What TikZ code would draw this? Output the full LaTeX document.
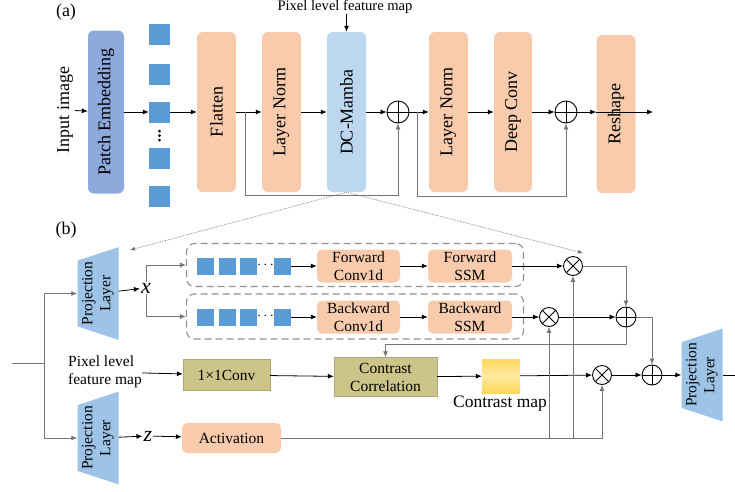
\documentclass[tikz,border=0pt]{standalone}
\usepackage{fontspec}
\setmainfont{Liberation Serif}
\usepackage{tikz}
\usetikzlibrary{arrows.meta,positioning,shapes.geometric}
\usepackage{xcolor}
\definecolor{PeachBox}{RGB}{248,203,173}
\definecolor{PatchBlue}{RGB}{142,169,219}
\definecolor{MambaBlue}{RGB}{189,215,238}
\definecolor{TokenBlue}{RGB}{91,155,213}
\definecolor{ProjBlue}{RGB}{157,195,230}
\definecolor{OliveBox}{RGB}{205,196,138}
\definecolor{LineGray}{RGB}{118,118,118}
\definecolor{MapGold}{RGB}{255,214,90}
\definecolor{MapLight}{RGB}{255,234,160}
\newcommand{\bigFont}{\fontsize{18}{20}\selectfont}
\newcommand{\smallFont}{\fontsize{15.5}{18}\selectfont}
\newcommand{\varFont}{\fontsize{22}{22}\selectfont\itshape}

\begin{document}
\begin{tikzpicture}[x=1pt,y=-1pt,
    arr/.style={-{Latex[length=6pt,width=5pt]},line width=0.8pt},
    garr/.style={arr,draw=LineGray},
    tallbox/.style={rounded corners=6pt,rotate=90,minimum width=160pt,minimum height=39pt,inner sep=0pt,font=\bigFont},
    token/.style={fill=TokenBlue,minimum size=21pt,inner sep=0pt},
    seqtoken/.style={fill=TokenBlue,minimum size=17pt,inner sep=0pt},
    addop/.style={circle,draw,line width=0.9pt,minimum size=22pt,inner sep=0pt,
        path picture={\draw[line width=0.9pt] (path picture bounding box.north) -- (path picture bounding box.south)
            (path picture bounding box.west) -- (path picture bounding box.east);}},
    mulop/.style={circle,draw,line width=0.9pt,minimum size=19pt,inner sep=0pt,
        path picture={\draw[line width=0.9pt] (path picture bounding box.north west) -- (path picture bounding box.south east)
            (path picture bounding box.north east) -- (path picture bounding box.south west);}},
    ssmbox/.style={fill=PeachBox,rounded corners=5pt,minimum width=84pt,minimum height=33pt,inner sep=0pt,align=center,font=\smallFont},
    convbox/.style={fill=OliveBox,draw=OliveBox!85!black,line width=0.4pt,inner sep=0pt,align=center,font=\smallFont},
    projbox/.style={trapezium,trapezium angle=67.5,trapezium stretches=true,rotate=90,minimum width=93pt,minimum height=41pt,
        inner sep=0pt,fill=ProjBlue,align=center,font=\smallFont},
    groupbox/.style={draw=LineGray!80,dash pattern=on 7pt off 4pt,line width=1.1pt,rounded corners=8pt,minimum width=337pt}]
\useasboundingbox (0,0) rectangle (735,491);

% (a) encoder block
\node[font=\bigFont] (lbla) at (66,12) {(a)};
\node[font=\fontsize{14.6}{16}\selectfont,inner sep=0pt] (pix1) at (345,7) {Pixel level feature map};
\node[rotate=90,font=\bigFont,inner sep=2pt] (inimg) at (65,110) {Input image};
\node[tallbox,fill=PatchBlue,minimum width=163pt,minimum height=36pt] (pe) at (106,112) {Patch Embedding};
\node[token] (tok1) at (159.5,34) {};
\node[token] (tok2) at (159.5,74) {};
\node[token] (tok3) at (159.5,112) {};
\node[token] (tok4) at (159.5,158) {};
\node[token] (tok5) at (159.5,196) {};
\foreach \dy in {131,135.5,140}
    \fill (159.5,\dy) circle (1.5pt);
\node[tallbox,fill=PeachBox] (fl) at (216.5,112) {Flatten};
\node[tallbox,fill=PeachBox] (ln1) at (281.5,112) {Layer Norm};
\node[tallbox,fill=MambaBlue] (dc) at (346.5,112) {DC-Mamba};
\node[addop] (add1) at (398,112) {};
\node[tallbox,fill=PeachBox] (ln2) at (448.5,112) {Layer Norm};
\node[tallbox,fill=PeachBox,minimum height=38pt] (dconv) at (513,112) {Deep Conv};
\node[addop] (add2) at (566,112) {};
\node[tallbox,fill=PeachBox,minimum width=158pt] (rs) at (616,114) {Reshape};
\coordinate (outa) at (653,112);
\coordinate (sk1) at (245,112);
\coordinate (low1) at (245,195);
\coordinate (sk2) at (417,112);
\coordinate (low2) at (417,196);

\draw[arr] (pix1.south -| dc) -- (dc);
\draw[arr] (inimg) -- (pe);
\draw[arr] (pe) -- (tok3);
\draw[arr] (tok3) -- (fl);
\draw[arr] (fl) -- (ln1);
\draw[arr] (ln1) -- (dc);
\draw[arr] (dc) -- (add1);
\draw[arr] (add1) -- (ln2);
\draw[arr] (ln2) -- (dconv);
\draw[arr] (dconv) -- (add2);
\draw[arr] (add2) -- (rs.north |- add2);
\draw[arr] (rs.north |- outa) -- (outa);
\draw[garr] (sk1) -- (low1) -| (add1);
\draw[garr] (sk2) -- (low2) -| (add2);

% (b) DC-Mamba internals
\node[font=\bigFont] (lblb) at (66,230) {(b)};
\coordinate (dotl) at (130,250);
\coordinate (dotr) at (583,253);
\draw[-{Latex[length=5pt,width=4pt]},densely dotted,draw=LineGray,line width=0.7pt] (dc.west) -- (dotl);
\draw[-{Latex[length=5pt,width=4pt]},densely dotted,draw=LineGray,line width=0.7pt] (dc.west) -- (dotr);

\node[groupbox,minimum height=43pt] (fwdgrp) at (355,265) {};
\node[groupbox,minimum height=45pt] (bwdgrp) at (355,316.5) {};

\node[projbox] (pu) at (98,293.5) {Projection\\Layer};
\node[font=\varFont,inner sep=1pt] (xv) at (146,288) {x};

\node[seqtoken] (f1) at (205.5,266) {};
\node[seqtoken] (f2) at (227,266) {};
\node[seqtoken] (f3) at (248.5,266) {};
\node[font=\smallFont] (fdots) at (265.5,265) {$\cdots$};
\node[seqtoken] (f4) at (282,266) {};
\node[ssmbox,minimum width=83pt] (fconv) at (358.5,266) {Forward\\Conv1d};
\node[ssmbox] (fssm) at (470,266) {Forward\\SSM};
\node[mulop] (o1) at (573,266) {};

\node[seqtoken] (b1) at (205.5,317) {};
\node[seqtoken] (b2) at (227,317) {};
\node[seqtoken] (b3) at (248.5,317) {};
\node[font=\smallFont] (bdots) at (265.5,316) {$\cdots$};
\node[seqtoken] (b4) at (282,317) {};
\node[ssmbox,minimum width=83pt] (bconv) at (358.5,317) {Backward\\Conv1d};
\node[ssmbox] (bssm) at (470,317) {Backward\\SSM};
\node[mulop] (o2) at (549,317) {};
\node[addop,minimum size=20pt] (p1) at (626,317) {};

\node[font=\smallFont,anchor=west,align=left,inner sep=0pt] (pix2) at (68,372) {Pixel level\\feature map};
\node[convbox,minimum width=87pt,minimum height=31pt] (c11) at (226.5,375) {1×1Conv};
\node[convbox,minimum width=103pt,minimum height=39pt] (cc) at (385.5,377) {Contrast\\Correlation};
\node[minimum width=38pt,minimum height=34pt,inner sep=0pt,top color=MapGold,bottom color=MapGold,middle color=MapLight] (cmap) at (501,376) {};
\node[font=\fontsize{17.5}{19}\selectfont,inner sep=0pt] (cmaplbl) at (500,404) {Contrast map};
\node[mulop] (o3) at (602,375) {};
\node[addop,minimum size=20pt] (p2) at (652,375) {};
\node[projbox] (pr) at (702,375) {Projection\\Layer};
\coordinate (outb) at (735,375);

\node[projbox] (pd) at (98,438) {Projection\\Layer};
\node[font=\varFont,inner sep=1pt] (zv) at (148,436) {z};
\node[ssmbox,minimum width=99pt,minimum height=30pt] (act) at (231.5,438) {Activation};

\coordinate (inb) at (12,363);
\coordinate (split) at (44,363);
\coordinate (fb) at (385.5,344);

\draw[garr,-] (inb) -- (split);
\draw[garr] (split) |- (pu);
\draw[garr] (split) |- (pd);
\draw[arr] (pu) -- (xv);
\draw[garr] (xv.north) |- (fwdgrp.west);
\draw[garr] (xv.south) |- (bwdgrp.west);
\draw[arr] (f4) -- (fconv);
\draw[arr] (fconv) -- (fssm);
\draw[arr] (fssm) -- (o1);
\draw[arr] (b4) -- (bconv);
\draw[arr] (bconv) -- (bssm);
\draw[arr] (bssm) -- (o2);
\draw[arr] (o2) -- (p1);
\draw[garr] (o1) -| (p1);
\draw[garr] (p1) -| (p2);
\draw[garr] (p1) |- (fb) -- (cc);
\draw[arr] (pix2) -- (c11);
\draw[arr] (c11) -- (cc);
\draw[arr] (cc) -- (cmap);
\draw[arr] (cmap) -- (o3);
\draw[arr] (o3) -- (p2);
\draw[arr] (p2) -- (pr);
\draw[line width=0.8pt] (pr) -- (outb);
\draw[arr] (pd) -- (zv);
\draw[arr] (zv) -- (act);
\draw[garr] (act) -| (o3);
\draw[garr] (o2 |- act) -- (o2);
\draw[garr] (o1 |- act) -- (o1);
\end{tikzpicture}
\end{document}
